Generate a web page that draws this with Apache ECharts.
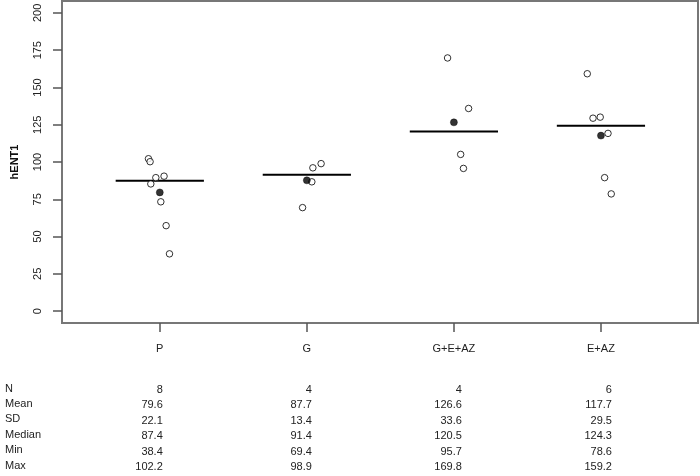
<!DOCTYPE html>
<html>
<head>
<meta charset="utf-8">
<script src="https://cdn.jsdelivr.net/npm/echarts@6/dist/echarts.min.js"></script>
<style>
html,body{margin:0;padding:0;background:#fff;}
#c{width:700px;height:476px;}
</style>
</head>
<body>
<div id="c"></div>
<script>
// ---- data ----
var categories = ['P', 'G', 'G+E+AZ', 'E+AZ'];
var valuesP = [102.2, 100.2, 89.5, 90.5, 85.3, 73.3, 57.3, 38.4];
var valuesG = [98.9, 96.1, 86.7, 69.4];
var valuesGEAZ = [169.8, 135.9, 105.1, 95.7];
var valuesEAZ = [159.2, 129.4, 130.1, 119.2, 89.5, 78.6];
// horizontal jitter of each point (in category units)
var jitterP = [-0.077, -0.066, -0.027, 0.029, -0.061, 0.007, 0.043, 0.066];
var jitterG = [0.097, 0.041, 0.034, -0.029];
var jitterGEAZ = [-0.043, 0.100, 0.046, 0.065];
var jitterEAZ = [-0.093, -0.054, -0.005, 0.048, 0.025, 0.070];
var means = [79.6, 87.7, 126.6, 117.7];
var medians = [87.4, 91.4, 120.5, 124.3];
var yTicks = [0, 25, 50, 75, 100, 125, 150, 175, 200];
var statLabels = ['N', 'Mean', 'SD', 'Median', 'Min', 'Max'];
var statN = ['8', '4', '4', '6'];
var statMean = ['79.6', '87.7', '126.6', '117.7'];
var statSD = ['22.1', '13.4', '33.6', '29.5'];
var statMedian = ['87.4', '91.4', '120.5', '124.3'];
var statMin = ['38.4', '69.4', '95.7', '78.6'];
var statMax = ['102.2', '98.9', '169.8', '159.2'];

var groups = [valuesP, valuesG, valuesGEAZ, valuesEAZ];
var jitters = [jitterP, jitterG, jitterGEAZ, jitterEAZ];
var pointData = [];
groups.forEach(function (vals, gi) {
  vals.forEach(function (v, k) { pointData.push([gi + 1 + jitters[gi][k], v]); });
});
var meanData = means.map(function (m, i) { return [i + 1, m]; });
var medianData = medians.map(function (m, i) { return [i + 1, m]; });
var catPos = categories.map(function (c, i) { return i + 1; });

var FONT = 'Liberation Sans';
var chart = echarts.init(document.getElementById('c'), null, {renderer: 'canvas'});
chart.setOption({
  animation: false,
  backgroundColor: '#fff',
  textStyle: {fontFamily: FONT},
  grid: {left: 62, top: 1, width: 636, height: 322, show: true, borderColor: '#777', borderWidth: 2, backgroundColor: 'transparent'},
  xAxis: {
    type: 'value', min: 0.335, max: 4.66,
    splitLine: {show: false},
    axisLine: {show: false, onZero: false},
    axisTick: {show: true, inside: false, customValues: catPos, length: 9, lineStyle: {color: '#555', width: 1.5}},
    axisLabel: {show: true, customValues: catPos, margin: 20, fontSize: 11, color: '#222', fontFamily: FONT,
      formatter: function (v) { return categories[Math.round(v) - 1] || ''; }}
  },
  yAxis: {
    type: 'value', min: -8, max: 208,
    name: 'hENT1', nameLocation: 'middle', nameGap: 42, nameRotate: 90,
    nameTextStyle: {fontWeight: 'bold', fontSize: 11, color: '#111', fontFamily: FONT},
    splitLine: {show: false},
    axisLine: {show: false, onZero: false},
    axisTick: {show: true, inside: false, customValues: yTicks, length: 9, lineStyle: {color: '#555', width: 1.5}},
    axisLabel: {show: true, customValues: yTicks, rotate: 90, margin: 19, fontSize: 11, color: '#222', fontFamily: FONT}
  },
  series: [
    {
      type: 'custom', data: medianData, z: 2,
      renderItem: function (params, api) {
        var x = api.value(0), y = api.value(1);
        var p1 = api.coord([x - 0.3, y]), p2 = api.coord([x + 0.3, y]);
        return {type: 'line', shape: {x1: p1[0], y1: p1[1], x2: p2[0], y2: p2[1]},
          style: {stroke: '#000', lineWidth: 2}};
      }
    },
    {
      type: 'scatter', data: pointData, symbol: 'circle', symbolSize: 6.5, z: 3,
      itemStyle: {color: '#fff', borderColor: '#000', borderWidth: 1}
    },
    {
      type: 'scatter', data: meanData, symbol: 'circle', symbolSize: 7, z: 4,
      itemStyle: {color: '#000', borderColor: '#000', borderWidth: 0.5}
    }
  ]
});

// statistics table under the plot
var rows = [statN, statMean, statSD, statMedian, statMin, statMax];
var colOffset = [3, 5, 8, 11];
var els = [];
var y0 = 390, dy = 15.4;
statLabels.forEach(function (lab, r) {
  els.push({type: 'text', left: 5, top: y0 + r * dy - 7,
    style: {text: lab, fontSize: 11, fill: '#222', fontFamily: FONT}});
  rows[r].forEach(function (t, c) {
    var px = chart.convertToPixel({xAxisIndex: 0}, c + 1) + colOffset[c];
    els.push({type: 'text', x: px, y: y0 + r * dy,
      style: {text: t, fontSize: 11, fill: '#222', fontFamily: FONT, align: 'right', verticalAlign: 'middle'}});
  });
});
chart.setOption({graphic: els});
</script>
</body>
</html>
